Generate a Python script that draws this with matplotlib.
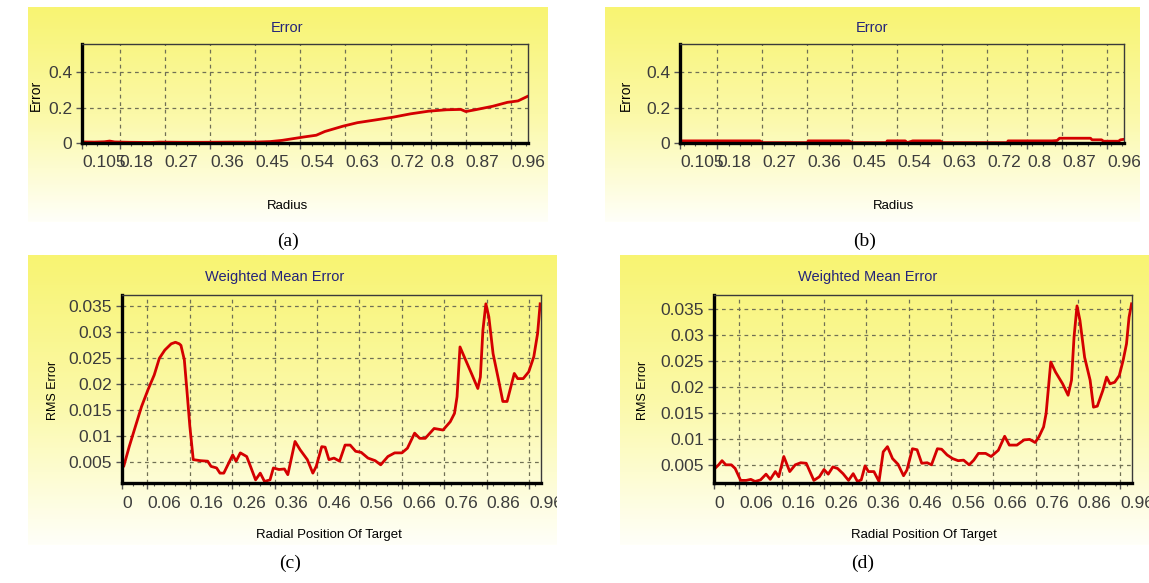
import numpy as np
import matplotlib.pyplot as plt
from matplotlib.colors import LinearSegmentedColormap
from matplotlib.ticker import MultipleLocator

W, H = 1149, 583

# ---- data ----
# (a) Error vs Radius
xa = [0.105, 0.13, 0.15, 0.16, 0.17, 0.2, 0.24, 0.26, 0.3, 0.35, 0.4, 0.45, 0.48,
      0.504, 0.547, 0.572, 0.589, 0.625, 0.654, 0.689, 0.725, 0.76, 0.796, 0.832,
      0.86, 0.87, 0.889, 0.924, 0.953, 0.974, 0.994]
ya = [0.006, 0.005, 0.007, 0.011, 0.006, 0.004, 0.003, 0.005, 0.004, 0.004, 0.005,
      0.005, 0.008, 0.015, 0.034, 0.044, 0.065, 0.095, 0.115, 0.13, 0.146, 0.165,
      0.18, 0.188, 0.19, 0.178, 0.188, 0.208, 0.23, 0.238, 0.265]

# (b) Error vs Radius
xb = [0.105, 0.265, 0.27, 0.36, 0.362, 0.443, 0.45, 0.518, 0.52, 0.556, 0.56, 0.571,
      0.626, 0.63, 0.76, 0.762, 0.85, 0.86, 0.865, 0.927, 0.93, 0.949, 0.953, 0.983,
      0.987, 0.994]
yb = [0.012, 0.012, 0.002, 0.002, 0.012, 0.012, 0.002, 0.002, 0.012, 0.012, 0.002,
      0.012, 0.012, 0.002, 0.002, 0.012, 0.012, 0.014, 0.027, 0.027, 0.018, 0.018,
      0.01, 0.01, 0.018, 0.021]

# (c) Weighted mean error
xc = [0.0, 0.004, 0.017, 0.029, 0.046, 0.061, 0.076, 0.088, 0.101, 0.116, 0.126,
      0.135, 0.139, 0.147, 0.153, 0.16, 0.168, 0.185, 0.202, 0.21, 0.223, 0.231,
      0.24, 0.261, 0.269, 0.279, 0.294, 0.303, 0.315, 0.326, 0.336, 0.349, 0.357,
      0.37, 0.383, 0.391, 0.408, 0.42, 0.437, 0.45, 0.458, 0.471, 0.479, 0.488,
      0.50, 0.513, 0.526, 0.538, 0.551, 0.564, 0.58, 0.597, 0.61, 0.627, 0.643,
      0.66, 0.673, 0.69, 0.702, 0.715, 0.736, 0.757, 0.774, 0.784, 0.79, 0.797,
      0.807, 0.824, 0.839, 0.845, 0.851, 0.858, 0.865, 0.875, 0.888, 0.898, 0.908,
      0.925, 0.933, 0.946, 0.959, 0.971, 0.98, 0.986]
yc = [0.0042, 0.0042, 0.008, 0.0112, 0.0157, 0.0189, 0.0218, 0.025, 0.0266, 0.0278,
      0.0281, 0.0278, 0.0275, 0.0247, 0.0189, 0.0119, 0.0055, 0.0053, 0.0052, 0.0042,
      0.0039, 0.0029, 0.0029, 0.0064, 0.0052, 0.0068, 0.0061, 0.0042, 0.0016, 0.0029,
      0.0013, 0.0016, 0.0039, 0.0036, 0.0037, 0.0026, 0.009, 0.0074, 0.0055, 0.0029,
      0.0042, 0.008, 0.0079, 0.0055, 0.0058, 0.0052, 0.0083, 0.0083, 0.0071, 0.0069,
      0.0058, 0.0053, 0.0045, 0.0061, 0.0068, 0.0068, 0.0077, 0.0106, 0.0096, 0.0096,
      0.0115, 0.0112, 0.0128, 0.0144, 0.0176, 0.0272, 0.0253, 0.0221, 0.0192, 0.0214,
      0.0304, 0.0355, 0.033, 0.0259, 0.0208, 0.0167, 0.0167, 0.0221, 0.0211, 0.0211,
      0.0224, 0.0253, 0.0298, 0.0355]

# (d) Weighted mean error
xd = [0.002, 0.011, 0.019, 0.028, 0.041, 0.05, 0.063, 0.076, 0.087, 0.097, 0.11,
      0.123, 0.133, 0.145, 0.153, 0.165, 0.179, 0.192, 0.205, 0.218, 0.236, 0.249,
      0.26, 0.27, 0.281, 0.292, 0.305, 0.318, 0.329, 0.339, 0.348, 0.357, 0.365,
      0.378, 0.39, 0.40, 0.41, 0.422, 0.435, 0.448, 0.456, 0.469, 0.48, 0.491,
      0.504, 0.514, 0.528, 0.538, 0.551, 0.564, 0.577, 0.59, 0.603, 0.614, 0.625,
      0.642, 0.655, 0.672, 0.687, 0.698, 0.716, 0.733, 0.746, 0.759, 0.768, 0.779,
      0.785, 0.796, 0.807, 0.824, 0.837, 0.845, 0.851, 0.858, 0.865, 0.876, 0.889,
      0.897, 0.906, 0.919, 0.928, 0.936, 0.947, 0.958, 0.967, 0.975, 0.981, 0.987]
yd = [0.0043, 0.005, 0.0058, 0.005, 0.005, 0.0043, 0.002, 0.002, 0.0022, 0.0018,
      0.0021, 0.0032, 0.0022, 0.0037, 0.0027, 0.0066, 0.0037, 0.005, 0.0054, 0.0053,
      0.002, 0.0027, 0.0041, 0.0032, 0.0046, 0.0043, 0.0033, 0.002, 0.0033, 0.0018,
      0.0021, 0.0048, 0.0037, 0.0037, 0.0018, 0.0075, 0.0085, 0.0062, 0.0051, 0.0029,
      0.004, 0.0081, 0.0079, 0.0053, 0.0054, 0.005, 0.0081, 0.008, 0.0069, 0.0062,
      0.0058, 0.0059, 0.005, 0.0059, 0.0072, 0.0072, 0.0066, 0.0078, 0.0105, 0.0088,
      0.0088, 0.0098, 0.0099, 0.0093, 0.0104, 0.0123, 0.0149, 0.0248, 0.0229, 0.0206,
      0.0184, 0.0213, 0.0296, 0.0356, 0.0328, 0.0257, 0.0213, 0.0161, 0.0163, 0.0193,
      0.0219, 0.0206, 0.0209, 0.0222, 0.0251, 0.0283, 0.0334, 0.036]

radius_ticks = [0.105, 0.18, 0.27, 0.36, 0.45, 0.54, 0.63, 0.72, 0.8, 0.87, 0.96]
radius_labels = ['0.105', '0.18', '0.27', '0.36', '0.45', '0.54', '0.63', '0.72', '0.8', '0.87', '0.96']
err_ticks = [0, 0.2, 0.4]
err_labels = ['0', '0.2', '0.4']

pos_ticks = [0, 0.06, 0.16, 0.26, 0.36, 0.46, 0.56, 0.66, 0.76, 0.86, 0.96]
pos_labels = ['0', '0.06', '0.16', '0.26', '0.36', '0.46', '0.56', '0.66', '0.76', '0.86', '0.96']
rms_ticks = [0.005, 0.01, 0.015, 0.02, 0.025, 0.03, 0.035]
rms_labels = ['0.005', '0.01', '0.015', '0.02', '0.025', '0.03', '0.035']

SANS = 'Liberation Sans'
TITLE_C = '#24247a'
TICK_C = '#3c3c3c'
LINE_C = '#d40000'

fig = plt.figure(figsize=(W / 100, H / 100), dpi=100)
fig.patch.set_facecolor('white')


def rect(l, t, r, b):
    return [l / W, 1 - b / H, (r - l) / W, (b - t) / H]


def txt(x, y, s, **kw):
    fig.text(x / W, 1 - y / H, s, ha='center', va='center', **kw)


grad = LinearSegmentedColormap.from_list('yel', ['#f8f472', '#fbf9a8', '#fffff8'])


def panel(l, t, r, b):
    bg = fig.add_axes(rect(l, t, r, b), zorder=0)
    bg.imshow(np.linspace(0, 1, 200).reshape(-1, 1), aspect='auto', cmap=grad,
              extent=[0, 1, 0, 1], origin='upper', interpolation='bilinear')
    bg.axis('off')
    return bg


def chart(bg, box, x, y, xlim, ylim, xt, xl, yt, yl, minor):
    ax = fig.add_axes(rect(*box), zorder=1)
    ax.set_facecolor('none')
    ax.plot(x, y, color=LINE_C, lw=2.0, zorder=2.2)
    ax.set_xlim(xlim)
    ax.set_ylim(ylim)
    ax.set_xticks(xt)
    ax.set_xticklabels(xl, ha='left', fontsize=12.5, family=SANS, color=TICK_C)
    ax.set_yticks(yt)
    ax.set_yticklabels(yl, fontsize=12.5, family=SANS, color=TICK_C)
    ax.xaxis.set_minor_locator(MultipleLocator(minor))
    ax.tick_params(axis='x', which='major', length=4, width=1, pad=5, color='#555555')
    ax.tick_params(axis='x', which='minor', length=2.5, width=0.8, color='#555555')
    ax.tick_params(axis='y', which='major', length=4, width=1, pad=3, color='#555555')
    ax.grid(True, which='major', color='#707055', ls=(0, (3, 3)), lw=0.9)
    for s in ['left', 'bottom']:
        ax.spines[s].set_linewidth(2.4)
        ax.spines[s].set_color('black')
    for s in ['top', 'right']:
        ax.spines[s].set_linewidth(1.0)
        ax.spines[s].set_color('#3a3a3a')
    for lab in ax.get_xticklabels():
        lab.set_clip_on(True)
        lab.set_clip_box(bg.bbox)
    return ax


# (a)
bga = panel(28, 7, 548, 222)
chart(bga, (82, 44, 528, 143), xa, ya, (0.105, 0.994), (0, 0.56),
      radius_ticks, radius_labels, err_ticks, err_labels, 0.0225)
txt(287, 28, 'Error', fontsize=10.5, family=SANS, color=TITLE_C)
txt(36, 95, 'Error', fontsize=10, family=SANS, rotation=90)
txt(287, 206, 'Radius', fontsize=9.5, family=SANS)
txt(288, 241, '(a)', fontsize=14, family='Liberation Serif')

# (b)
bgb = panel(605, 7, 1140, 222)
chart(bgb, (680, 44, 1124, 143), xb, yb, (0.105, 0.994), (0, 0.56),
      radius_ticks, radius_labels, err_ticks, err_labels, 0.0225)
txt(872, 28, 'Error', fontsize=10.5, family=SANS, color=TITLE_C)
txt(626, 95, 'Error', fontsize=10, family=SANS, rotation=90)
txt(893, 206, 'Radius', fontsize=9.5, family=SANS)
txt(865, 241, '(b)', fontsize=14, family='Liberation Serif')

# (c)
bgc = panel(28, 255, 557, 545)
chart(bgc, (122, 295, 541, 483), xc, yc, (0, 0.988), (0.001, 0.0372),
      pos_ticks, pos_labels, rms_ticks, rms_labels, 0.025)
txt(275, 277, 'Weighted Mean Error', fontsize=10.5, family=SANS, color=TITLE_C)
txt(53, 390, 'RMS Error', fontsize=9, family=SANS, rotation=90)
txt(329, 535, 'Radial Position Of Target', fontsize=9.5, family=SANS)
txt(290, 563, '(c)', fontsize=14, family='Liberation Serif')

# (d)
bgd = panel(620, 255, 1149, 545)
chart(bgd, (714, 295, 1132, 483), xd, yd, (0, 0.988), (0.0015, 0.0377),
      pos_ticks, pos_labels, rms_ticks, rms_labels, 0.025)
txt(868, 277, 'Weighted Mean Error', fontsize=10.5, family=SANS, color=TITLE_C)
txt(643, 390, 'RMS Error', fontsize=9, family=SANS, rotation=90)
txt(924, 535, 'Radial Position Of Target', fontsize=9.5, family=SANS)
txt(863, 563, '(d)', fontsize=14, family='Liberation Serif')

fig.savefig('out.png', dpi=100)
